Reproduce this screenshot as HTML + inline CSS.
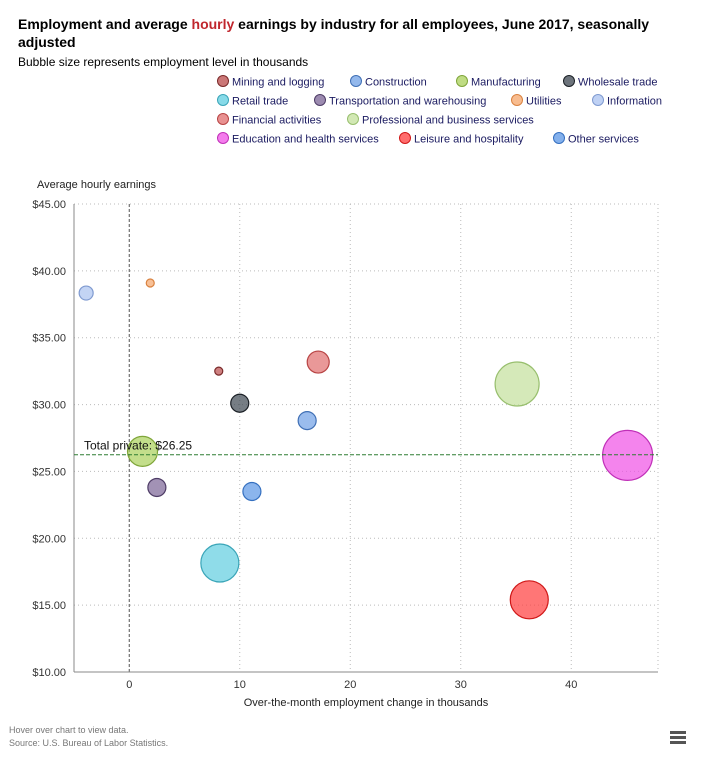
<!DOCTYPE html>
<html><head><meta charset="utf-8"><style>
body{margin:0;background:#fff;font-family:"Liberation Sans",sans-serif;}
#wrap{position:relative;width:704px;height:763px;overflow:hidden}
</style></head><body>
<div id="wrap">
<svg id="chart" width="704" height="763" style="position:absolute;left:0;top:0;font-family:'Liberation Sans',sans-serif"></svg>
</div>
<script>
const categories=["Mining and logging","Construction","Manufacturing","Wholesale trade","Retail trade","Transportation and warehousing","Utilities","Information","Financial activities","Professional and business services","Education and health services","Leisure and hospitality","Other services"];
const changes=[8.1,16.1,1.2,10,8.2,2.5,1.9,-3.9,17.1,35.1,45.1,36.2,11.1];
const earnings=[32.5,28.8,26.5,30.1,18.15,23.8,39.09,38.34,33.18,31.54,26.2,15.4,23.5];
const radii=[4,9,15,9,19,9,4,7,11,22,25,19,9];
const colors=["#b94a4a","#6fa0e6","#a9d05a","#3c4650","#5fcde0","#7b6496","#f5a56a","#a9c2f0","#e06c6c","#c3e09b","#f050e6","#ff3c3c","#5a96e6"];
const strokes=["#7a2a2a","#3f6fb5","#7fa53a","#1a1f25","#3aa5b8","#4e3c66","#d98240","#7f9ad0","#b84444","#98bf6e","#c030b8","#d01818","#3570c0"];
const yTicks=[10,15,20,25,30,35,40,45];
const xTicks=[0,10,20,30,40];
const totalPrivate=26.25;

const NS="http://www.w3.org/2000/svg",svg=document.getElementById('chart');
function el(t,a,p){const e=document.createElementNS(NS,t);for(const k in a)e.setAttribute(k,a[k]);(p||svg).appendChild(e);return e;}
const L=74,R=658,T=204,B=672,xmin=-5,xmax=47.85,ymin=10,ymax=45;
const xs=v=>L+(v-xmin)/(xmax-xmin)*(R-L);
const ys=v=>B-(v-ymin)/(ymax-ymin)*(B-T);

let t=el('text',{x:18,y:29,'font-size':14,'font-weight':'bold',fill:'#000'});


t.innerHTML='Employment and average <tspan fill="#c0262d">hourly</tspan> earnings by industry for all employees, June 2017, seasonally';
t=el('text',{x:18,y:47,'font-size':14,'font-weight':'bold',fill:'#000'});t.textContent='adjusted';


t=el('text',{x:18,y:66,'font-size':12,fill:'#000'});t.textContent='Bubble size represents employment level in thousands';



const legRows=[[0,1,2,3],[4,5,6,7],[8,9],[10,11,12]];
const legX=[[223,356,462,569],[223,320,517,598],[223,353],[223,405,559]];
legRows.forEach((row,ri)=>row.forEach((ci,j)=>{
  const g=el('g',{});
  
  
  const x=legX[ri][j],y=81+ri*19;
  el('circle',{cx:x,cy:y,r:5.5,fill:colors[ci],'fill-opacity':0.75,stroke:strokes[ci]},g);
  const tx=el('text',{x:x+9,y:y+4.5,'font-size':11,fill:'#1a1a60'},g);tx.textContent=categories[ci];
}));

yTicks.forEach(v=>{
  const l=el('line',{x1:L,x2:R,y1:ys(v),y2:ys(v),stroke:'#bbb','stroke-dasharray':'1,3'});
  
  
  const tx=el('text',{x:66,y:ys(v)+4,'font-size':11,'text-anchor':'end',fill:'#333'});tx.textContent='$'+v.toFixed(2);
  
  
});
xTicks.forEach(v=>{
  if(v!==0){const l=el('line',{x1:xs(v),x2:xs(v),y1:T,y2:B,stroke:'#bbb','stroke-dasharray':'1,3'});
  
  }
  const tx=el('text',{x:xs(v),y:B+16,'font-size':11,'text-anchor':'middle',fill:'#333'});tx.textContent=v;
  
  
});
el('line',{x1:R,x2:R,y1:T,y2:B,stroke:'#bbb','stroke-dasharray':'1,3'});
let z=el('line',{x1:xs(0),x2:xs(0),y1:T,y2:B,stroke:'#555','stroke-dasharray':'3,2'});


el('line',{x1:L,x2:L,y1:T,y2:B,stroke:'#888'});
el('line',{x1:L,x2:R,y1:B,y2:B,stroke:'#888'});

t=el('text',{x:37,y:188,'font-size':11,fill:'#222'});t.textContent='Average hourly earnings';


t=el('text',{x:366,y:706,'font-size':11,'text-anchor':'middle',fill:'#222'});t.textContent='Over-the-month employment change in thousands';



categories.forEach((c,i)=>{
  const b=el('circle',{cx:xs(changes[i]),cy:ys(earnings[i]),r:radii[i],fill:colors[i],'fill-opacity':0.7,stroke:strokes[i],'stroke-width':1.2});
  
  
});

let pl=el('line',{x1:L,x2:R,y1:ys(totalPrivate),y2:ys(totalPrivate),stroke:'#2e7d32','stroke-dasharray':'4,2'});


t=el('text',{x:84,y:ys(totalPrivate)-5,'font-size':12,fill:'#111'});t.textContent='Total private: $'+totalPrivate.toFixed(2);



t=el('text',{x:9,y:733,'font-size':9,fill:'#777'});t.textContent='Hover over chart to view data.';


t=el('text',{x:9,y:746,'font-size':9,fill:'#777'});t.textContent='Source: U.S. Bureau of Labor Statistics.';


const m=el('g',{});


[731,736,741].forEach(y=>el('rect',{x:670,y:y,width:16,height:3,fill:'#555'},m));
</script>
</body></html>
